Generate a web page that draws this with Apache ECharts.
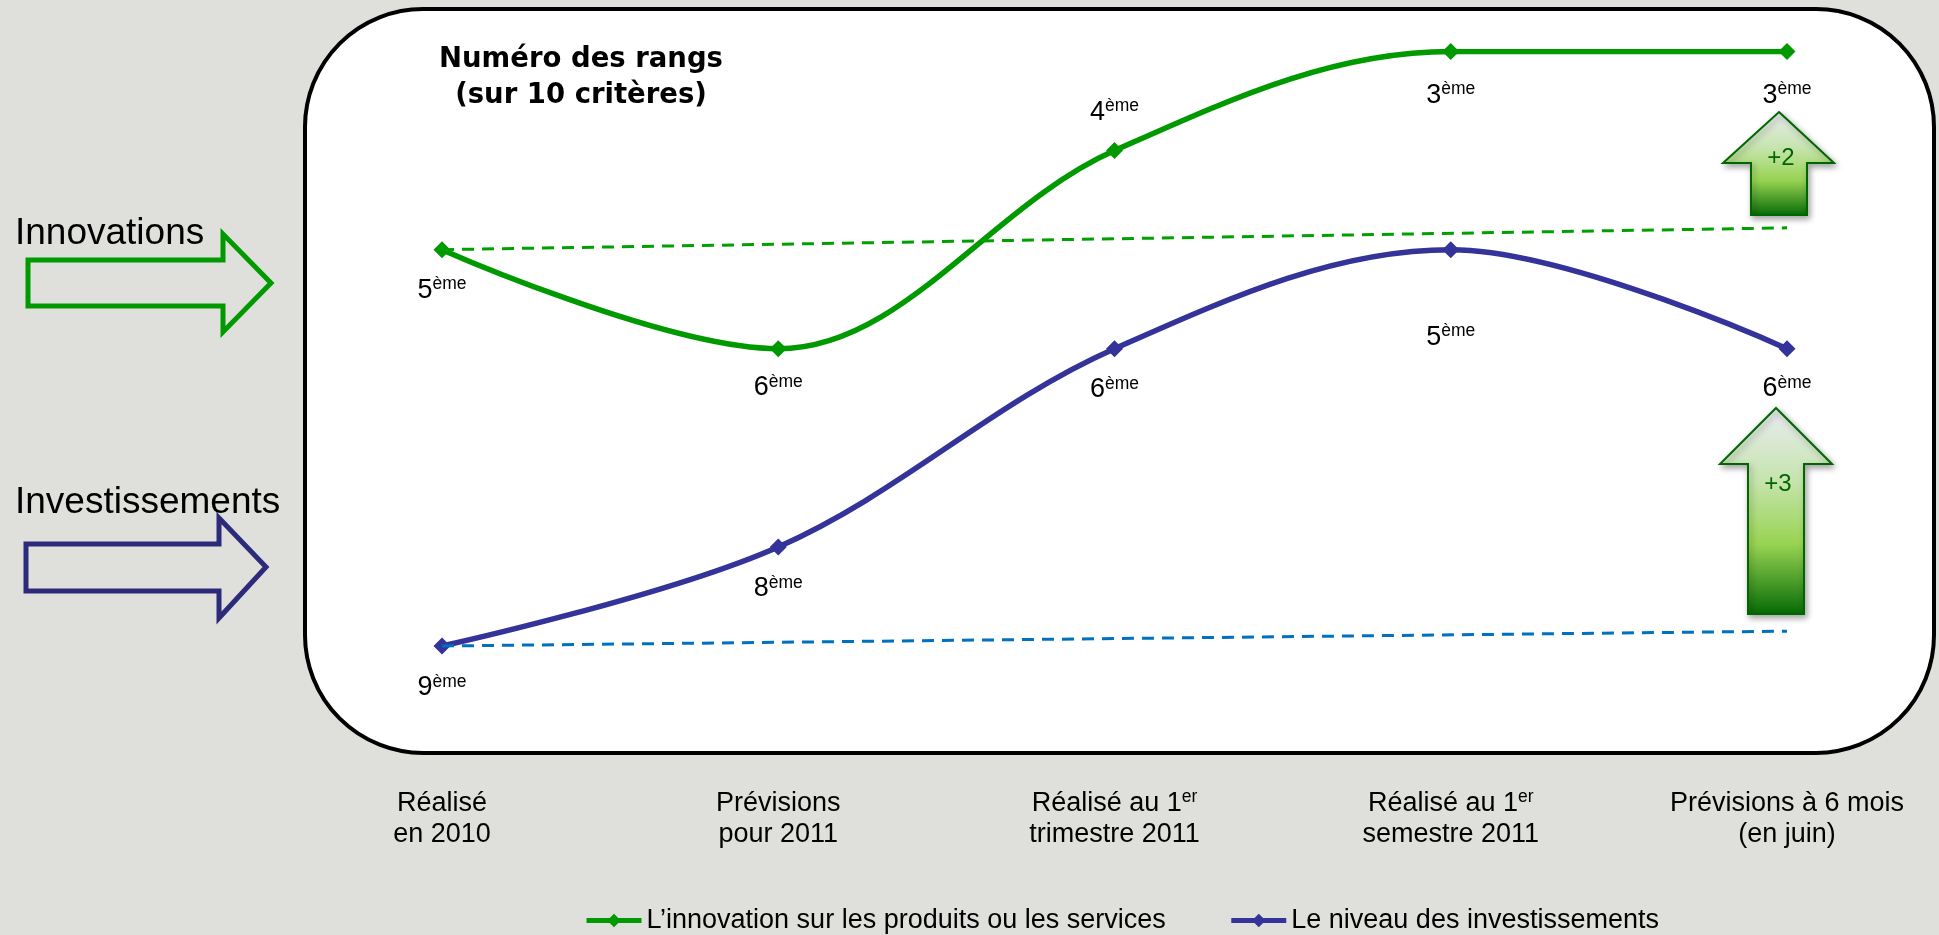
<!DOCTYPE html>
<html>
<head>
<meta charset="utf-8">
<title>Numéro des rangs</title>
<script src="https://cdn.jsdelivr.net/npm/echarts@6/dist/echarts.min.js"></script>
<style>
  html, body { margin: 0; padding: 0; background: #dfe0db; }
  #chart { width: 1939px; height: 935px; }
</style>
</head>
<body>
<div id="chart"></div>
<script>
  // catégories de l'axe X ({s|..} = exposant)
  var categories = [
    'Réalisé\nen 2010',
    'Prévisions\npour 2011',
    'Réalisé au 1{s|er}\ntrimestre 2011',
    'Réalisé au 1{s|er}\nsemestre 2011',
    'Prévisions à 6 mois\n(en juin)'
  ]
  // rangs sur 10 critères (1 = meilleur)
  var innovation = [5, 6, 4, 3, 3]
  var investissements = [9, 8, 6, 5, 6]
  // droites de tendance pointillées : [début, fin]
  var innovationTrend = [5, 4.78]
  var investTrend = [9, 8.85]
  var gains = ['+2', '+3']
  var rankSuffix = 'ème'

  // décalage vertical des étiquettes (px)
  var innovationLabelDy = [41, 39, -38, 44, 44]
  var investLabelDy = [42, 42, 41, 88, 40]

  var regular = '"Liberation Sans", Arial, sans-serif'
  var green = '#009900'
  var blue = '#333399'

  var chart = echarts.init(document.getElementById('chart'))

  function rankItems (values, offsets) {
    return values.map(function (v, i) {
      return { value: v, label: { offset: [0, offsets[i]] } }
    })
  }

  var rankLabel = {
    show: true,
    position: 'inside',
    color: '#000',
    formatter: function (p) {
      return '{n|' + p.value + '}{s|' + rankSuffix + '}'
    },
    rich: {
      n: { fontSize: 27, lineHeight: 30, fontFamily: regular, color: '#000' },
      s: { fontSize: 17.5, lineHeight: 20, verticalAlign: 'top', fontFamily: regular, color: '#000' }
    }
  }

  function trendLine (trend, color) {
    return {
      silent: true,
      symbol: 'none',
      label: { show: false },
      emphasis: { disabled: true },
      lineStyle: { color: color, width: 3, type: [12, 8] },
      data: [[
        { coord: [0, trend[0]] },
        { coord: [categories.length - 1, trend[1]] }
      ]]
    }
  }

  function upArrow (pts, text, tx, ty) {
    return [{
      type: 'polygon',
      z: 100,
      shape: { points: pts },
      style: {
        fill: new echarts.graphic.LinearGradient(0, 0, 0, 1, [
          { offset: 0, color: '#eaecf3' },
          { offset: 0.35, color: '#c6e4ae' },
          { offset: 0.66, color: '#98d352' },
          { offset: 1, color: '#056a05' }
        ]),
        stroke: '#006600',
        lineWidth: 2,
        shadowBlur: 6,
        shadowOffsetX: 2,
        shadowOffsetY: 3,
        shadowColor: 'rgba(0,0,0,0.35)'
      }
    }, {
      type: 'text',
      z: 101,
      x: tx,
      y: ty,
      style: {
        text: text,
        fontSize: 24,
        fontFamily: regular,
        fill: '#006600',
        align: 'center',
        verticalAlign: 'middle'
      }
    }]
  }

  var graphics = [
    // cadre arrondi
    {
      type: 'rect',
      z: 0,
      shape: { x: 305, y: 9, width: 1629, height: 744, r: 118 },
      style: { fill: '#fff', stroke: '#000', lineWidth: 4 }
    },
    {
      type: 'text',
      z: 100,
      x: 581,
      y: 42,
      style: {
        text: 'Numéro des rangs\n(sur 10 critères)',
        fontSize: 27.5,
        fontWeight: 'bold',
        fontFamily: '"DejaVu Sans", Verdana, sans-serif',
        lineHeight: 36,
        align: 'center',
        verticalAlign: 'top',
        fill: '#000'
      }
    },
    {
      type: 'text',
      z: 100,
      x: 15,
      y: 233.5,
      style: { text: 'Innovations', fontSize: 37, fontFamily: regular, fill: '#000', verticalAlign: 'middle' }
    },
    {
      type: 'polygon',
      z: 100,
      shape: { points: [[28, 260], [223, 260], [223, 234], [271, 283], [223, 332], [223, 306], [28, 306]] },
      style: { fill: 'none', stroke: green, lineWidth: 5, lineJoin: 'miter' }
    },
    {
      type: 'text',
      z: 100,
      x: 15,
      y: 502.5,
      style: { text: 'Investissements', fontSize: 37, fontFamily: regular, fill: '#000', verticalAlign: 'middle' }
    },
    {
      type: 'polygon',
      z: 100,
      shape: { points: [[26, 544], [219, 544], [219, 518], [266, 567], [219, 618], [219, 591], [26, 591]] },
      style: { fill: 'none', stroke: '#2d2a7c', lineWidth: 5, lineJoin: 'miter' }
    }
  ]
  graphics = graphics
    .concat(upArrow([[1779, 112], [1834, 163], [1807, 163], [1807, 215], [1751, 215], [1751, 163], [1723, 163]], gains[0], 1781, 158))
    .concat(upArrow([[1776, 408], [1832, 464], [1804, 464], [1804, 614], [1748, 614], [1748, 464], [1720, 464]], gains[1], 1778, 484))

  chart.setOption({
    backgroundColor: '#dfe0db',
    animation: false,
    graphic: graphics,
    legend: {
      left: 584,
      top: 907,
      padding: 0,
      itemWidth: 55,
      itemHeight: 17,
      itemGap: 63,
      lineStyle: { width: 5 },
      textStyle: { fontSize: 27, fontFamily: regular, color: '#000' },
      data: ['L’innovation sur les produits ou les services', 'Le niveau des investissements']
    },
    grid: {
      left: 442,
      right: 152,
      top: 51.5,
      bottom: 289
    },
    xAxis: {
      type: 'category',
      boundaryGap: false,
      data: categories,
      axisLine: { show: false },
      axisTick: { show: false },
      splitLine: { show: false },
      axisLabel: {
        interval: 0,
        margin: 142,
        fontSize: 27,
        lineHeight: 31,
        fontFamily: regular,
        color: '#000',
        align: 'center',
        rich: {
          s: { fontSize: 17.5, lineHeight: 20, verticalAlign: 'top', fontFamily: regular, color: '#000' }
        }
      }
    },
    yAxis: {
      type: 'value',
      inverse: true,
      min: 3,
      max: 9,
      show: false,
      splitLine: { show: false }
    },
    series: [{
      name: 'L’innovation sur les produits ou les services',
      type: 'line',
      smooth: 0.35,
      symbol: 'diamond',
      symbolSize: 17,
      color: green,
      lineStyle: { width: 5.5, color: green },
      itemStyle: { color: green },
      emphasis: { disabled: true },
      label: rankLabel,
      data: rankItems(innovation, innovationLabelDy),
      markLine: trendLine(innovationTrend, '#00a000')
    }, {
      name: 'Le niveau des investissements',
      type: 'line',
      smooth: 0.35,
      symbol: 'diamond',
      symbolSize: 17,
      color: blue,
      lineStyle: { width: 5.5, color: blue },
      itemStyle: { color: blue },
      emphasis: { disabled: true },
      label: rankLabel,
      data: rankItems(investissements, investLabelDy),
      markLine: trendLine(investTrend, '#0070c0')
    }]
  })
</script>
</body>
</html>
